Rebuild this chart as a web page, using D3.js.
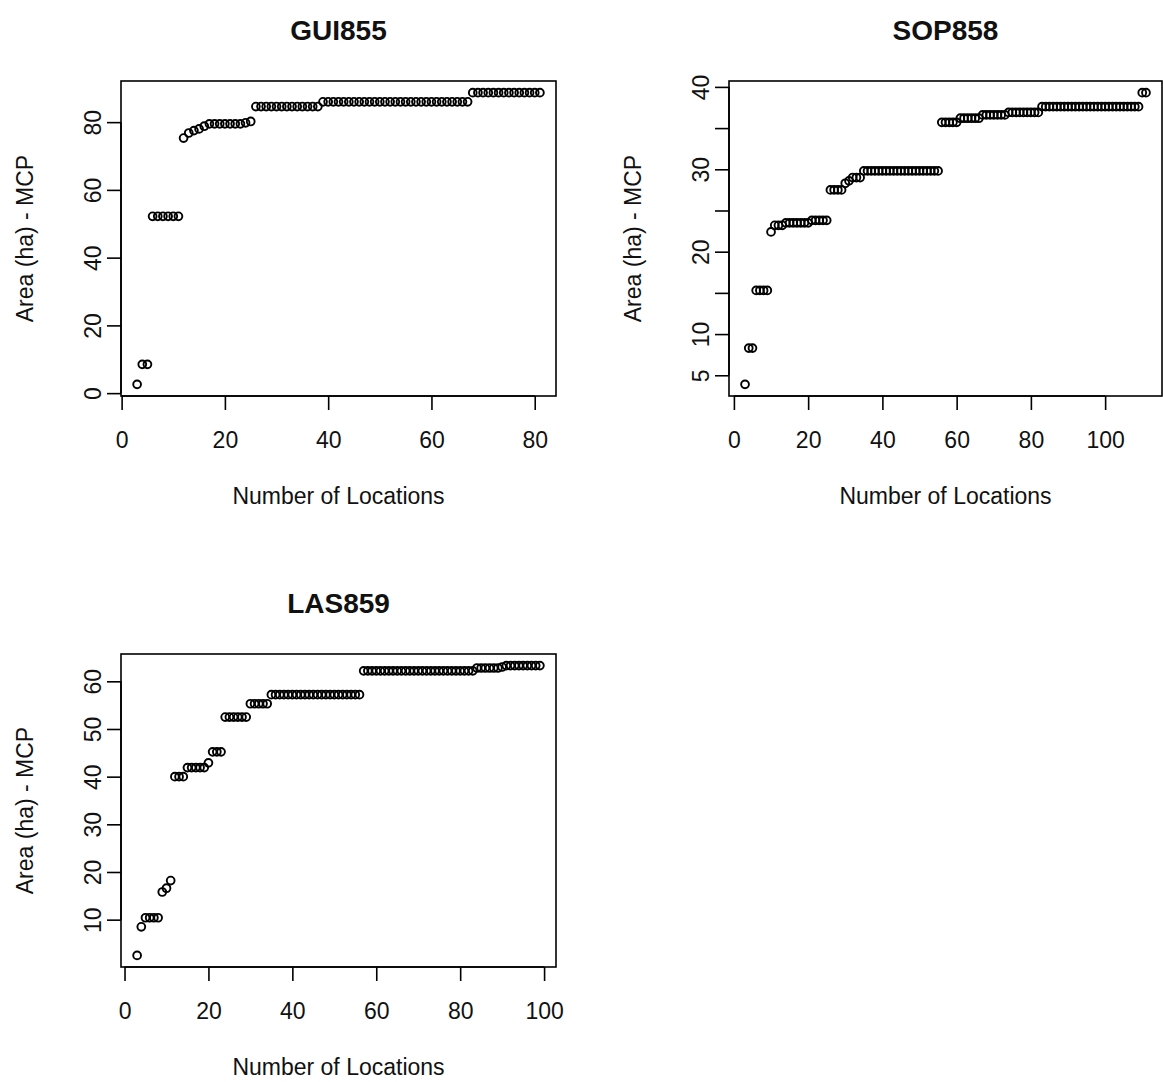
<!DOCTYPE html>
<html>
<head>
<meta charset="utf-8">
<script src="https://cdn.jsdelivr.net/npm/d3@7"></script>
<style>
  html, body { margin: 0; padding: 0; background: #fff; }
  svg { display: block; }
  text { font-family: "Liberation Sans", Arial, sans-serif; fill: #111; }
</style>
</head>
<body>
<svg id="chart" width="1163" height="1082"></svg>
<script>
// Cumulative MCP area (ha) against the number of locations used, per animal.
const gui855X = d3.range(3, 82);
const gui855Y = [
  2.6, 8.5, 8.5, 52.2, 52.2, 52.2, 52.2, 52.2, 52.2, 75.3,
  76.8, 77.5, 78.0, 78.8, 79.5, 79.5, 79.5, 79.5, 79.5, 79.5,
  79.5, 79.8, 80.2, 84.6, 84.6, 84.6, 84.6, 84.6, 84.6, 84.6,
  84.6, 84.6, 84.6, 84.6, 84.6, 84.6, 86.0, 86.0, 86.0, 86.0,
  86.0, 86.0, 86.0, 86.0, 86.0, 86.0, 86.0, 86.0, 86.0, 86.0,
  86.0, 86.0, 86.0, 86.0, 86.0, 86.0, 86.0, 86.0, 86.0, 86.0,
  86.0, 86.0, 86.0, 86.0, 86.0, 88.7, 88.7, 88.7, 88.7, 88.7,
  88.7, 88.7, 88.7, 88.7, 88.7, 88.7, 88.7, 88.7, 88.7
];

const sop858X = d3.range(3, 112);
const sop858Y = [
  3.9, 8.3, 8.3, 15.3, 15.3, 15.3, 15.3, 22.4, 23.2, 23.2,
  23.2, 23.5, 23.5, 23.5, 23.5, 23.5, 23.5, 23.5, 23.8, 23.8,
  23.8, 23.8, 23.8, 27.5, 27.5, 27.5, 27.5, 28.3, 28.6, 29.0,
  29.0, 29.0, 29.8, 29.8, 29.8, 29.8, 29.8, 29.8, 29.8, 29.8,
  29.8, 29.8, 29.8, 29.8, 29.8, 29.8, 29.8, 29.8, 29.8, 29.8,
  29.8, 29.8, 29.8, 35.7, 35.7, 35.7, 35.7, 35.7, 36.2, 36.2,
  36.2, 36.2, 36.2, 36.2, 36.6, 36.6, 36.6, 36.6, 36.6, 36.6,
  36.6, 36.9, 36.9, 36.9, 36.9, 36.9, 36.9, 36.9, 36.9, 36.9,
  37.6, 37.6, 37.6, 37.6, 37.6, 37.6, 37.6, 37.6, 37.6, 37.6,
  37.6, 37.6, 37.6, 37.6, 37.6, 37.6, 37.6, 37.6, 37.6, 37.6,
  37.6, 37.6, 37.6, 37.6, 37.6, 37.6, 37.6, 39.3, 39.3
];

const las859X = d3.range(3, 100);
const las859Y = [
  2.5, 8.5, 10.4, 10.4, 10.4, 10.4, 15.8, 16.6, 18.2, 40.0,
  40.0, 40.0, 41.9, 41.9, 41.9, 41.9, 41.9, 42.9, 45.2, 45.2,
  45.2, 52.5, 52.5, 52.5, 52.5, 52.5, 52.5, 55.3, 55.3, 55.3,
  55.3, 55.3, 57.2, 57.2, 57.2, 57.2, 57.2, 57.2, 57.2, 57.2,
  57.2, 57.2, 57.2, 57.2, 57.2, 57.2, 57.2, 57.2, 57.2, 57.2,
  57.2, 57.2, 57.2, 57.2, 62.2, 62.2, 62.2, 62.2, 62.2, 62.2,
  62.2, 62.2, 62.2, 62.2, 62.2, 62.2, 62.2, 62.2, 62.2, 62.2,
  62.2, 62.2, 62.2, 62.2, 62.2, 62.2, 62.2, 62.2, 62.2, 62.2,
  62.2, 62.8, 62.8, 62.8, 62.8, 62.8, 62.8, 63.0, 63.3, 63.3,
  63.3, 63.3, 63.3, 63.3, 63.3, 63.3, 63.3
];

// Tick positions and the labels actually printed on each axis
const gui855XTicks = [0, 20, 40, 60, 80];
const gui855YTicks = [0, 20, 40, 60, 80];
const gui855YLabels = [0, 20, 40, 60, 80];
const sop858XTicks = [0, 20, 40, 60, 80, 100];
const sop858YTicks = [5, 10, 15, 20, 25, 30, 35, 40];
const sop858YLabels = [5, 10, 20, 30, 40];
const las859XTicks = [0, 20, 40, 60, 80, 100];
const las859YTicks = [10, 20, 30, 40, 50, 60];
const las859YLabels = [10, 20, 30, 40, 50, 60];

const titles = ["GUI855", "SOP858", "LAS859"];
const xTitle = "Number of Locations";
const yTitle = "Area (ha) - MCP";

const panels = [
  { title: titles[0], xs: gui855X, ys: gui855Y, xt: gui855XTicks, yt: gui855YTicks, yl: gui855YLabels,
    box: { left: 121, top: 81, right: 556, bottom: 396 } },
  { title: titles[1], xs: sop858X, ys: sop858Y, xt: sop858XTicks, yt: sop858YTicks, yl: sop858YLabels,
    box: { left: 729, top: 81, right: 1162, bottom: 396 } },
  { title: titles[2], xs: las859X, ys: las859Y, xt: las859XTicks, yt: las859YTicks, yl: las859YLabels,
    box: { left: 121, top: 654, right: 556, bottom: 967 } }
];

// base-graphics style range: data extent padded by 4% on each side
function paddedExtent(values) {
  const [lo, hi] = d3.extent(values);
  const pad = (hi - lo) * 0.04;
  return [lo - pad, hi + pad];
}

const svg = d3.select("#chart");
const FONT = 23;
const TICK = 14;

panels.forEach(p => {
  const b = p.box;
  const x = d3.scaleLinear().domain(paddedExtent(p.xs)).range([b.left, b.right]);
  const y = d3.scaleLinear().domain(paddedExtent(p.ys)).range([b.bottom, b.top]);
  const g = svg.append("g");

  // points
  g.append("g").selectAll("circle")
    .data(p.xs.map((v, i) => [v, p.ys[i]]))
    .join("circle")
    .attr("cx", d => x(d[0]))
    .attr("cy", d => y(d[1]))
    .attr("r", 3.9)
    .attr("fill", "none")
    .attr("stroke", "#000")
    .attr("stroke-width", 1.9);

  // frame
  g.append("rect")
    .attr("x", b.left).attr("y", b.top)
    .attr("width", b.right - b.left).attr("height", b.bottom - b.top)
    .attr("fill", "none").attr("stroke", "#000").attr("stroke-width", 1.6);

  // bottom axis
  const xa = g.append("g")
    .attr("transform", `translate(0,${b.bottom})`)
    .call(d3.axisBottom(x).tickValues(p.xt).tickSize(TICK).tickSizeOuter(0).tickFormat(d3.format("d")));
  xa.select(".domain").attr("d", `M${x(p.xt[0])},0H${x(p.xt[p.xt.length - 1])}`)
    .attr("stroke", "#000").attr("stroke-width", 1.6);
  xa.selectAll(".tick line").attr("stroke", "#000").attr("stroke-width", 1.6);
  xa.selectAll(".tick text")
    .attr("y", 52).attr("dy", null)
    .style("font-family", "'Liberation Sans', Arial, sans-serif")
    .style("font-size", FONT + "px")
    .attr("fill", "#111");

  // left axis, labels written parallel to the axis
  const ya = g.append("g")
    .attr("transform", `translate(${b.left},0)`)
    .call(d3.axisLeft(y).tickValues(p.yt).tickSize(TICK).tickSizeOuter(0)
      .tickFormat(d => p.yl.includes(d) ? d3.format("d")(d) : ""));
  ya.select(".domain").attr("d", `M0,${y(p.yt[0])}V${y(p.yt[p.yt.length - 1])}`)
    .attr("stroke", "#000").attr("stroke-width", 1.6);
  ya.selectAll(".tick line").attr("stroke", "#000").attr("stroke-width", 1.6);
  ya.selectAll(".tick text")
    .attr("x", null).attr("dy", null)
    .attr("text-anchor", "middle")
    .attr("transform", "translate(-20,0) rotate(-90)")
    .style("font-family", "'Liberation Sans', Arial, sans-serif")
    .style("font-size", FONT + "px")
    .attr("fill", "#111");

  const cx = (b.left + b.right) / 2;
  const cy = (b.top + b.bottom) / 2;

  g.append("text")
    .attr("x", cx).attr("y", b.top - 41)
    .attr("text-anchor", "middle")
    .style("font-size", "28px").style("font-weight", "bold")
    .text(p.title);

  g.append("text")
    .attr("x", cx).attr("y", b.bottom + 108)
    .attr("text-anchor", "middle")
    .style("font-size", FONT + "px")
    .text(xTitle);

  g.append("text")
    .attr("transform", `translate(${b.left - 88},${cy}) rotate(-90)`)
    .attr("text-anchor", "middle")
    .style("font-size", FONT + "px")
    .text(yTitle);
});
</script>
</body>
</html>
